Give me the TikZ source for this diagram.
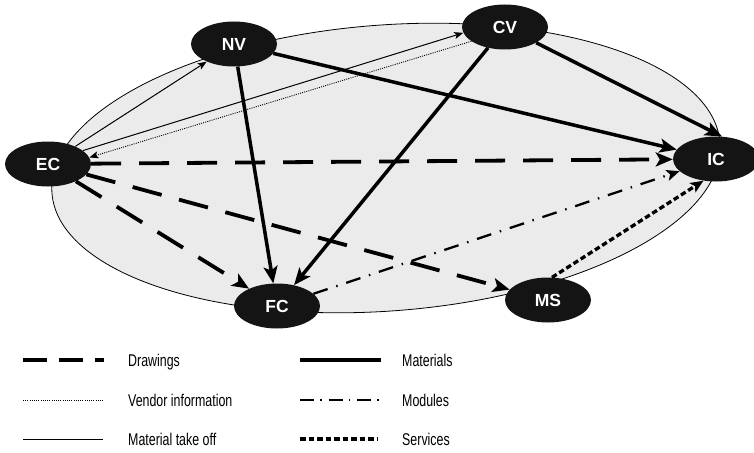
\documentclass[tikz,border=0pt]{standalone}
\usepackage{fontspec}
\setmainfont{Liberation Sans}
\newfontfamily\legendfont[FakeStretch=0.73]{Liberation Sans}
\usetikzlibrary{arrows.meta,shapes.geometric}
\definecolor{nodeblack}{HTML}{141414}
\definecolor{fieldgray}{HTML}{EBEBEB}
\begin{document}
\begin{tikzpicture}[x=1pt,y=-1pt,
  party/.style={ellipse, fill=nodeblack, text=white,
    font=\bfseries\fontsize{17.5}{20}\selectfont,
    minimum width=86pt, minimum height=45pt, inner sep=0pt},
  bighead/.style={-{Stealth[length=17pt,width=14pt,inset=4pt]}},
  midhead/.style={-{Stealth[length=13pt,width=11pt,inset=3pt]}},
  smallhead/.style={-{Stealth[length=9pt,width=7pt,inset=2pt]}},
  drawings/.style={line width=3.8pt, dash pattern=on 30pt off 18pt},
  materials/.style={line width=3.5pt},
  vendor/.style={line width=0.9pt, dash pattern=on 1pt off 1.2pt},
  takeoff/.style={line width=1pt},
  modules/.style={line width=2.3pt, dash pattern=on 15pt off 9pt on 1.5pt off 9pt},
  services/.style={line width=3.3pt, dash pattern=on 5.5pt off 3pt},
  legendtext/.style={anchor=base west, inner sep=0pt,
    font=\legendfont\fontsize{17}{20}\selectfont},
]
\useasboundingbox (0,0) rectangle (754,452);

% shaded project field
\filldraw[fill=fieldgray, draw=black, line width=0.8pt,
  rotate around={4.3:(386,168)}] (386,168) ellipse [x radius=335pt, y radius=143pt];

% parties
\node[party] (NV) at (234,44) {NV};
\node[party] (CV) at (505,27) {CV};
\node[party] (EC) at (48,164) {EC};
\node[party] (IC) at (716,159) {IC};
\node[party] (FC) at (277,306) {FC};
\node[party] (MS) at (548,300) {MS};

% flows
\draw[takeoff, smallhead] (EC) -- (NV);
\draw[takeoff, smallhead] (EC.21) -- (CV.188);
\draw[vendor, smallhead] (CV.203) -- (EC.9);
\draw[materials, bighead] (NV) -- (FC);
\draw[materials, bighead] (NV) -- (IC);
\draw[materials, bighead] (CV) -- (FC);
\draw[materials, bighead] (CV) -- (IC.75);
\draw[drawings, bighead] (EC) -- (IC);
\draw[drawings, bighead] (EC) -- (FC);
\draw[drawings, bighead] (EC) -- (MS);
\draw[modules, midhead] (FC) -- (IC);
\draw[services, midhead] (MS.80) -- (IC.240);

% legend
\draw[line width=3.8pt, dash pattern=on 24pt off 12pt] (23,360) -- (104,360);
\draw[vendor] (23,400) -- (103,400);
\draw[takeoff] (23,439) -- (103,439);
\draw[materials] (300,360) -- (381,360);
\draw[line width=2.3pt, dash pattern=on 14pt off 6pt on 1.5pt off 7pt] (300,400) -- (380,400);
\draw[line width=3.3pt, dash pattern=on 5.5pt off 3pt] (300,439) -- (378,439);

\node[legendtext] (tDrawings) at (128,366) {Drawings};
\node[legendtext] (tVendor) at (128,406.5) {Vendor information};
\node[legendtext] (tTakeoff) at (128,445) {Material take off};
\node[legendtext] (tMaterials) at (402,366) {Materials};
\node[legendtext] (tModules) at (402,406.5) {Modules};
\node[legendtext] (tServices) at (402,445) {Services};
\end{tikzpicture}
\end{document}
